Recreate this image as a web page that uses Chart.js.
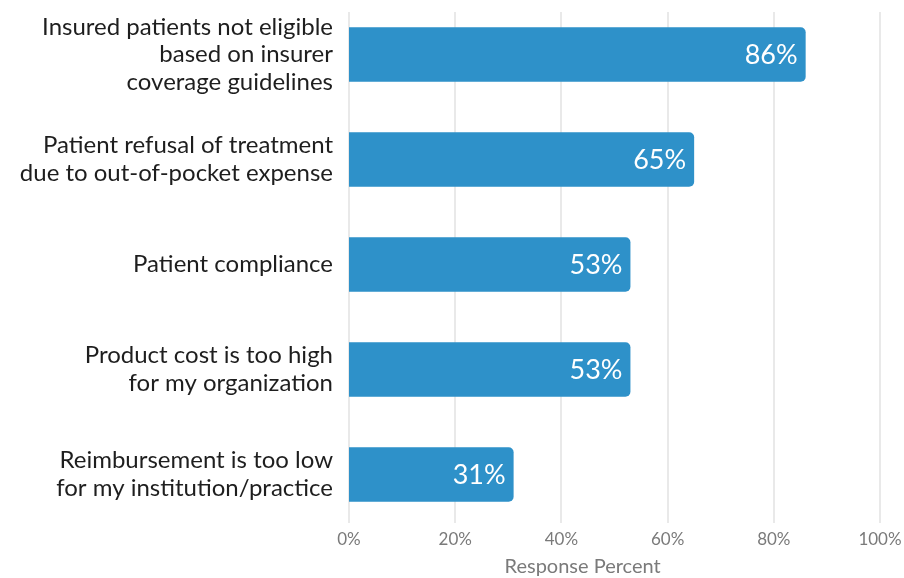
<!DOCTYPE html>
<html>
<head>
<meta charset="utf-8">
<script src="https://cdn.jsdelivr.net/npm/chart.js@4"></script>
<style>
  body { margin: 0; background: #fff; }
  #wrap { width: 904px; height: 578px; }
</style>
</head>
<body>
<div id="wrap"><canvas id="barriersChart" width="904" height="578"></canvas></div>
<script>
// Survey answers, one label line per array entry
const categories = [
    ["Insured patients not eligible", "based on insurer", "coverage guidelines"],
    ["Patient refusal of treatment", "due to out-of-pocket expense"],
    ["Patient compliance"],
    ["Product cost is too high", "for my organization"],
    ["Reimbursement is too low", "for my institution/practice"]
];
const responsePercent = [86, 65, 53, 53, 31];
const xTicks = [0, 20, 40, 60, 80, 100];
const axisTitle = "Response Percent";

const FONT = "Lato, 'Noto Sans', sans-serif";

// Shorter vertical grid lines than the full chart area
const gridLines = {
    id: "gridLines",
    beforeDatasetsDraw(chart) {
        const { ctx, chartArea, scales: { x } } = chart;
        ctx.save();
        ctx.strokeStyle = "#e2e2e2";
        ctx.lineWidth = 1.5;
        xTicks.forEach(v => {
            const px = Math.round(x.getPixelForValue(v));
            ctx.beginPath();
            ctx.moveTo(px, chartArea.top + 10);
            ctx.lineTo(px, chartArea.bottom - 4);
            ctx.stroke();
        });
        ctx.restore();
    }
};

// Value labels inside the bar ends, plus the axis title
const barLabels = {
    id: "barLabels",
    afterDatasetsDraw(chart) {
        const { ctx, scales: { x } } = chart;
        const meta = chart.getDatasetMeta(0);
        ctx.save();
        ctx.fillStyle = "#ffffff";
        ctx.font = "27px " + FONT;
        ctx.textAlign = "right";
        ctx.textBaseline = "middle";
        meta.data.forEach((bar, i) => {
            ctx.fillText(responsePercent[i] + "%", bar.x - 8, bar.y + 1);
        });

        ctx.fillStyle = "#7a7a7a";
        ctx.font = "20px " + FONT;
        ctx.textAlign = "center";
        ctx.fillText(axisTitle, x.getPixelForValue(44), 567);
        ctx.restore();
    }
};

new Chart(document.getElementById("barriersChart"), {
    type: "bar",
    data: {
        labels: categories,
        datasets: [{
            data: responsePercent,
            backgroundColor: "#2e91c9",
            borderRadius: 5,
            borderSkipped: "start",
            categoryPercentage: 1,
            barPercentage: 0.52
        }]
    },
    options: {
        indexAxis: "y",
        responsive: false,
        animation: false,
        layout: { padding: { top: 2, right: 24, left: 0, bottom: 0 } },
        plugins: {
            legend: { display: false },
            tooltip: { enabled: false }
        },
        scales: {
            x: {
                min: 0,
                max: 100,
                afterBuildTicks: scale => {
                    scale.ticks = xTicks.map(v => ({ value: v }));
                },
                afterFit: scale => { scale.height = 51; },
                grid: { display: false, drawTicks: false },
                border: { display: false },
                ticks: {
                    padding: 2,
                    color: "#7a7a7a",
                    font: { family: FONT, size: 17 },
                    callback: v => v + "%"
                }
            },
            y: {
                afterFit: scale => {
                    // keep the tall first label from pushing the bars down
                    scale.width = 349;
                    scale.paddingTop = 0;
                    scale.paddingBottom = 0;
                },
                grid: { display: false, drawTicks: false },
                border: { display: false },
                ticks: {
                    padding: 16,
                    color: "#1e1e1e",
                    font: { family: FONT, size: 24, lineHeight: 1.15 }
                }
            }
        }
    },
    plugins: [gridLines, barLabels]
});
</script>
</body>
</html>
